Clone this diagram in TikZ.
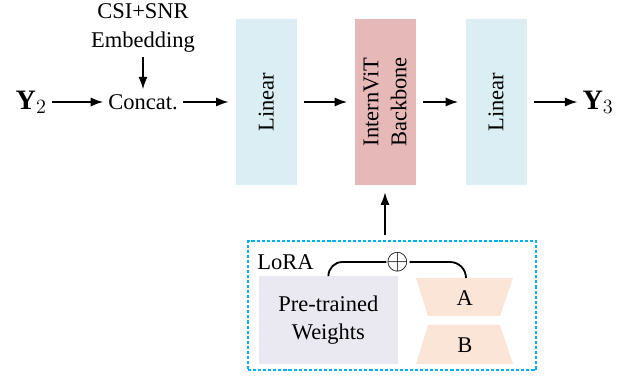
\documentclass[tikz,border=0pt]{standalone}
\usepackage{amsmath}
\usepackage{fontspec}
\setmainfont{Liberation Serif}
\usepackage{xcolor}
\usepackage{tikz}
\usetikzlibrary{calc,positioning,arrows.meta}

\definecolor{linblue}{RGB}{218,238,243}
\definecolor{bbred}{RGB}{230,185,184}
\definecolor{ptgray}{RGB}{234,232,240}
\definecolor{lorapeach}{RGB}{251,229,214}
\definecolor{loracyan}{RGB}{0,176,240}

\begin{document}
\begin{tikzpicture}[font=\fontsize{16}{20}\selectfont,
	block/.style={rotate=90,minimum width=4.15cm,minimum height=1.525cm,outer sep=0.18cm,align=center},
	arr/.style={-{Latex[length=9pt,width=6.5pt]},line width=1.3pt}]
		\useasboundingbox (0,0) rectangle (15.9,9.5);
		% main chain
		\node[font=\fontsize{20}{20}\selectfont] (y2) at (0.78,6.95) {$\mathbf{Y}_2$};
		\node (concat) at (3.575,6.95) {Concat.};
		\node[align=center] (emb) at (3.575,8.8) {CSI+SNR\\Embedding};
		\node[block,fill=linblue] (lin1) at (6.66,6.95) {Linear};
		\node[block,fill=bbred] (bb) at (9.625,6.95) {InternViT\\Backbone};
		\node[block,fill=linblue] (lin2) at (12.4,6.95) {Linear};
		\node[font=\fontsize{20}{20}\selectfont] (y3) at (14.95,6.95) {$\mathbf{Y}_3$};
		\draw[arr] (emb) -- (concat);
		\draw[arr] (y2) -- (concat);
		\draw[arr] (concat) -- (lin1);
		\draw[arr] (lin1) -- (bb);
		\draw[arr] (bb) -- (lin2);
		\draw[arr] (lin2) -- (y3);
		% LoRA part
		\node[draw=loracyan,line width=1.2pt,dash pattern=on 2.2pt off 1.4pt,minimum width=7.2cm,minimum height=3.225cm] (lora) at (9.8,1.8625) {};
		\draw[arr,shorten <=0.12cm] (lora.north -| bb) -- (bb);
		\node[anchor=west] (loratxt) at (6.31,2.95) {LoRA};
		\node[fill=ptgray,minimum width=3.475cm,minimum height=2.2cm,align=center] (pre) at (8.21,1.5) {Pre-trained\\Weights};
		\fill[lorapeach] (10.4,2.55) -- (12.825,2.55) -- (12.5,1.6) -- (10.7,1.6) -- cycle;
		\fill[lorapeach] (10.7,1.375) -- (12.5,1.375) -- (12.825,0.4) -- (10.4,0.4) -- cycle;
		\node (a) at (11.62,2.06) {A};
		\node (b) at (11.62,0.87) {B};
		\coordinate (atop) at (11.65,2.55);
		\node[inner sep=0pt,font=\fontsize{21}{21}\selectfont] (plus) at (9.95,2.95) {$\oplus$};
		\draw[line width=1.3pt,rounded corners=0.35cm] (pre.north) |- (plus.west);
		\draw[line width=1.3pt,rounded corners=0.4cm] (plus.east) -| (atop);
	\end{tikzpicture}
\end{document}
